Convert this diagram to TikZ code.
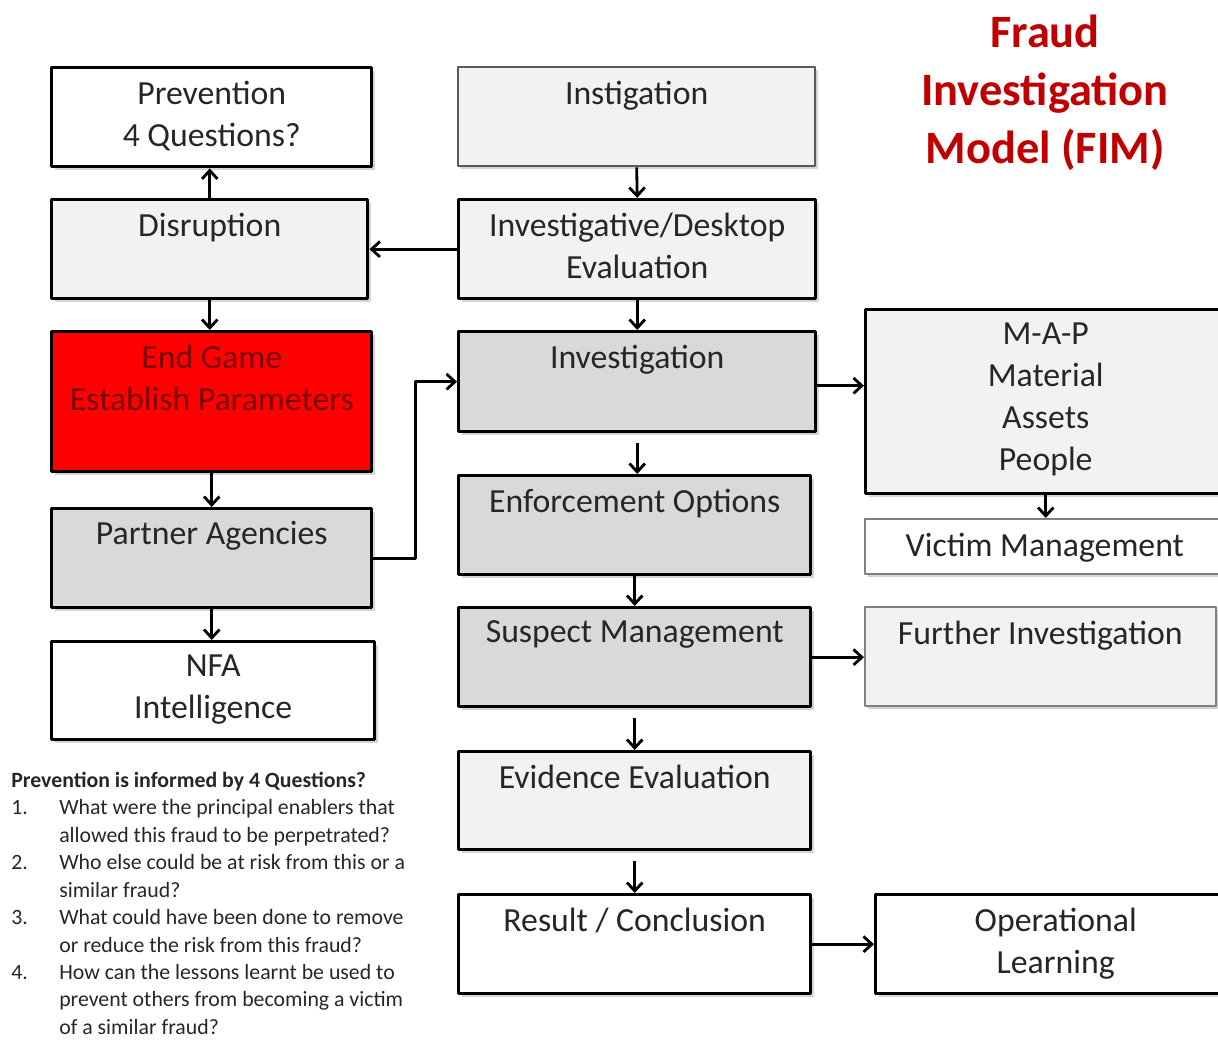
\documentclass[tikz,border=0pt]{standalone}
\usepackage{fontspec}
\setmainfont{Carlito}
\usetikzlibrary{arrows.meta, shadows}

\definecolor{paleg}{HTML}{F2F2F2}
\definecolor{midg}{HTML}{D9D9D9}
\definecolor{alarm}{HTML}{FF0000}
\definecolor{alarmtext}{HTML}{7A0000}
\definecolor{fimred}{HTML}{C00000}
\definecolor{inktext}{HTML}{262626}

\tikzset{
  box/.style={draw=black, line width=2.4pt, anchor=north west, inner sep=0pt,
    drop shadow={shadow xshift=2pt, shadow yshift=-2pt, opacity=0.35}},
  thinbox/.style={box, draw=black!50, line width=1.1pt},
  boxtext/.style={anchor=north, inner sep=0pt, yshift=-0.36cm, align=center,
    text=inktext, font=\fontsize{24}{29.9}\selectfont},
  arr/.style={-{Straight Barb[length=6pt,width=11pt]}, line width=2pt},
}

\begin{document}
\begin{tikzpicture}[x=0.025cm, y=-0.025cm, line join=round]
\useasboundingbox (0,0) rectangle (1218,1041);
\clip (0,0) rectangle (1218,1041);
% left column
\node[box, fill=white, minimum width=8cm, minimum height=2.475cm,
  label={[boxtext]north:{Prevention\\4 Questions?}}] (prev) at (50,66) {};
\node[box, fill=paleg, minimum width=7.9cm, minimum height=2.475cm,
  label={[boxtext]north:Disruption}] (disr) at (50,198) {};
\node[box, fill=alarm, minimum width=8cm, minimum height=3.5cm,
  label={[boxtext, text=alarmtext]north:{End Game\\Establish Parameters}}] (endg) at (50,330) {};
\node[box, fill=midg, minimum width=8cm, minimum height=2.475cm,
  label={[boxtext]north:Partner Agencies}] (part) at (50,507) {};
\node[box, fill=white, minimum width=8.075cm, minimum height=2.45cm,
  label={[boxtext]north:{NFA\\Intelligence}}] (nfa) at (50,640) {};
% middle column
\node[box, draw=black!65, line width=1.6pt, fill=paleg, minimum width=8.925cm, minimum height=2.475cm,
  label={[boxtext]north:Instigation}] (inst) at (457,66) {};
\node[box, fill=paleg, minimum width=8.925cm, minimum height=2.475cm,
  label={[boxtext]north:{Investigative/Desktop\\Evaluation}}] (desk) at (457,198) {};
\node[box, fill=midg, minimum width=8.925cm, minimum height=2.5cm,
  label={[boxtext]north:Investigation}] (invs) at (457,330) {};
\node[box, fill=midg, minimum width=8.8cm, minimum height=2.475cm,
  label={[boxtext]north:Enforcement Options}] (enf) at (457,474) {};
\node[box, fill=midg, minimum width=8.8cm, minimum height=2.475cm,
  label={[boxtext]north:Suspect Management}] (susp) at (457,606) {};
\node[box, fill=paleg, minimum width=8.8cm, minimum height=2.45cm,
  label={[boxtext]north:Evidence Evaluation}] (evid) at (457,750) {};
\node[box, fill=white, minimum width=8.8cm, minimum height=2.475cm,
  label={[boxtext]north:Result / Conclusion}] (res) at (457,893) {};
% right column
\node[box, fill=paleg, minimum width=9cm, minimum height=4.6cm,
  label={[boxtext]north:{M-A-P\\Material\\Assets\\People}}] (map) at (864,308) {};
\node[thinbox, fill=white, minimum width=9cm, minimum height=1.375cm,
  label={[boxtext]north:Victim Management}] (vict) at (864,518) {};
\node[thinbox, fill=paleg, minimum width=8.775cm, minimum height=2.475cm,
  label={[boxtext]north:Further Investigation}] (furt) at (864,606) {};
\node[box, fill=white, minimum width=9cm, minimum height=2.475cm,
  label={[boxtext]north:{Operational\\Learning}}] (oper) at (874,893) {};
% title and questions
\node[align=center, text=fimred, font=\fontsize{33}{41.3}\bfseries] (ttl) at (1045,93)
  {Fraud\\Investigation\\Model (FIM)};
\node[anchor=north west, inner sep=0pt, text=inktext, font=\fontsize{15.5}{19.5}\selectfont] (qs) at (11,768) {%
  \begin{tabular}{@{}p{1.2cm}@{}l@{}}
  \multicolumn{2}{@{}l@{}}{\textbf{Prevention is informed by 4 Questions?}}\\
  1. & What were the principal enablers that\\
     & allowed this fraud to be perpetrated?\\
  2. & Who else could be at risk from this or a\\
     & similar fraud?\\
  3. & What could have been done to remove\\
     & or reduce the risk from this fraud?\\
  4. & How can the lessons learnt be used to\\
     & prevent others from becoming a victim\\
     & of a similar fraud?
  \end{tabular}};
% connectors
\draw[arr] (inst.south) -- (desk.north);
\draw[arr] (desk.west) -- (disr.east);
\draw[arr] (disr.north) -- (disr.north |- prev.south);
\draw[arr] (disr.south) -- (disr.south |- endg.north);
\draw[arr] (endg.south) -- (part.north);
\draw[arr] (part.south) -- (part.south |- nfa.north);
\draw[arr] (part.east) -- ++(1.05cm,0) |- (invs.west);
\draw[arr] (desk.south) -- (desk.south |- invs.north);
\draw[arr, shorten <=0.25cm] (invs.south) -- (invs.south |- enf.north);
\draw[arr] (enf.south) -- (susp.north);
\draw[arr, shorten <=0.25cm] (susp.south) -- (evid.north);
\draw[arr, shorten <=0.25cm] (evid.south) -- (res.north);
\draw[arr] ([yshift=-0.1cm]invs.east) -- ([yshift=-0.1cm]invs.east -| map.west);
\draw[arr] (map.south) -- (map.south |- vict.north);
\draw[arr] (susp.east) -- (susp.east -| furt.west);
\draw[arr] (res.east) -- (res.east -| oper.west);
\end{tikzpicture}
\end{document}
